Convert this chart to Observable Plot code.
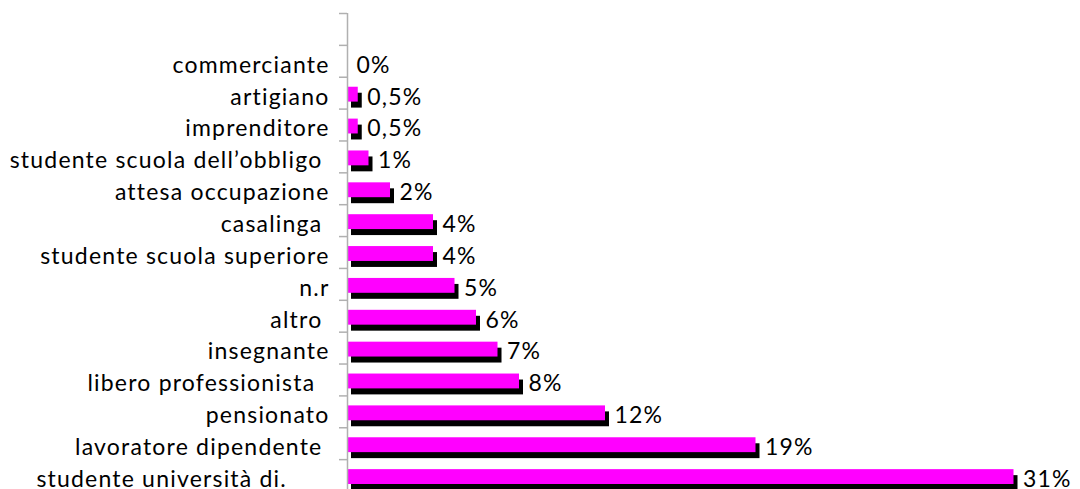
<!DOCTYPE html>
<html>
<head>
<meta charset="utf-8">
<script src="https://cdn.jsdelivr.net/npm/d3@7"></script>
<script src="https://cdn.jsdelivr.net/npm/@observablehq/plot@0.6"></script>
<style>
  html, body { margin: 0; padding: 0; background: #ffffff; overflow: hidden; }
  #chart { width: 1080px; height: 489px; overflow: hidden; }
  #chart svg text { letter-spacing: 1.2px; }
</style>
</head>
<body>
<div id="chart"></div>
<script>
// Categories (top to bottom)
const categories = [
  "commerciante",
  "artigiano",
  "imprenditore",
  "studente scuola dell’obbligo",
  "attesa occupazione",
  "casalinga",
  "studente scuola superiore",
  "n.r",
  "altro",
  "insegnante",
  "libero professionista",
  "pensionato",
  "lavoratore dipendente",
  "studente università di."
];
// Tick labels as they appear (with the original trailing spaces)
const tickLabels = [
  "commerciante",
  "artigiano",
  "imprenditore",
  "studente scuola dell’obbligo ",
  "attesa occupazione",
  "casalinga ",
  "studente scuola superiore",
  "n.r",
  "altro ",
  "insegnante",
  "libero professionista  ",
  "pensionato",
  "lavoratore dipendente ",
  "studente università di.      "
];
// Percentages
const values = [0, 0.5, 0.5, 1, 2, 4, 4, 5, 6, 7, 8, 12, 19, 31];
const valueLabels = ["0%", "0,5%", "0,5%", "1%", "2%", "4%", "4%", "5%", "6%", "7%", "8%", "12%", "19%", "31%"];

const data = categories.map((c, i) => ({cat: c, value: values[i], label: valueLabels[i]}));
const labelOf = new Map(categories.map((c, i) => [c, tickLabels[i].replace(/ /g, "\u00a0")]));

const yDomain = [""].concat(categories);
const height = 495, marginTop = 13, marginBottom = 4;
const bw = (height - marginTop - marginBottom) / yDomain.length;
const gray = "#b0b0b0";

const chart = Plot.plot({
  width: 1080,
  height,
  marginTop,
  marginBottom,
  marginLeft: 347,
  marginRight: 2,
  style: {fontFamily: "Lato", fontSize: "23px", background: "#ffffff", color: "#000000"},
  x: {domain: [0, 34], axis: null},
  y: {domain: yDomain, padding: 0, round: false, axis: null},
  marks: [
    Plot.barX(data, {x: "value", y: "cat", fill: "#000000", insetTop: 10, insetBottom: 7, dx: 4, dy: 6}),
    Plot.barX(data, {x: "value", y: "cat", fill: "#ff00ff", insetTop: 10, insetBottom: 7}),
    Plot.ruleX([0], {stroke: gray, strokeWidth: 1.5}),
    Plot.axisY({tickSize: 8, tickFormat: () => "", label: null, dy: -bw / 2, stroke: gray, strokeWidth: 1.5}),
    Plot.axisY({tickSize: 0, tickPadding: 18, label: null, tickFormat: (d) => labelOf.get(d) ?? "", dy: 4, fill: "#000000", fontSize: 23}),
    Plot.text(data, {x: "value", y: "cat", text: "label", textAnchor: "start", dx: 9, dy: 4, fill: "#000000", fontSize: 23})
  ]
});
document.getElementById("chart").appendChild(chart);
</script>
</body>
</html>
